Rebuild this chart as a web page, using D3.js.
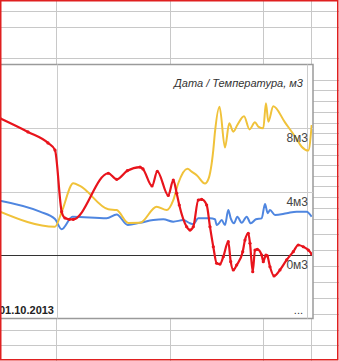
<!DOCTYPE html>
<html>
<head>
<meta charset="utf-8">
<script src="https://cdn.jsdelivr.net/npm/d3@7"></script>
<style>
  html, body { margin: 0; padding: 0; background: #fff; }
  svg { display: block; }
</style>
</head>
<body>
<svg id="chart" width="339" height="361"></svg>
<script>
// values (days from 01.10.2013, m3)
const redDays   = [-7.07, -3.6, -1.12, -0.25, 0.58, 0.99, 1.53, 2.02, 6.36, 7.40, 8.72, 10.29, 10.66, 11.78, 12.44, 13.80, 14.42, 14.84, 15.16, 16.08, 16.49, 16.90, 17.52, 17.94, 18.56, 18.97, 19.38, 19.80, 20.21, 20.62, 21.24, 21.54, 21.86, 22.28, 23.03, 23.31, 23.72, 23.93, 24.27, 24.55, 24.84, 25.38, 25.58, 25.91, 26.08, 26.41, 26.91, 27.65, 28.48, 29.30, 29.92, 30.54, 31.16, 31.58];
const redValues = [8.61, 7.75, 7.06, 6.61, 2.73, 2.33, 2.25, 2.25, 5.15, 4.77, 5.31, 5.54, 5.42, 4.35, 5.27, 3.75, 4.72, 3.89, 3.15, 1.78, 1.57, 1.78, 3.46, 3.50, 3.15, 1.78, 0.52, -0.52, -0.57, -0.11, 0.84, -0.42, -0.94, -0.63, 0.21, 0.94, 1.37, 0.74, -1.05, 0.31, 0.36, 0.0, -0.42, 0.0, -0.06, -0.74, -1.32, -0.94, -0.31, 0.21, 0.63, 0.52, 0.31, 0.06];

const yellowDays   = [-7.07, -0.25, 0.58, 2.02, 2.85, 6.36, 7.40, 8.84, 10.29, 12.36, 13.60, 14.42, 15.04, 16.18, 16.70, 17.36, 18.35, 18.76, 19.38, 19.59, 20.15, 20.83, 21.36, 21.86, 22.36, 23.19, 23.87, 24.55, 24.96, 25.58, 25.91, 26.20, 26.82, 28.27, 29.72, 30.34, 31.16, 31.58];
const yellowValues = [2.73, 1.78, 2.71, 4.52, 4.35, 2.88, 2.83, 2.02, 2.03, 3.04, 2.83, 3.46, 4.52, 5.43, 5.25, 5.01, 4.50, 4.76, 6.61, 7.75, 9.34, 6.77, 8.30, 7.77, 8.19, 8.74, 7.91, 8.36, 8.09, 7.98, 9.56, 8.40, 9.37, 8.35, 7.31, 6.82, 6.58, 8.19];

const blueDays   = [-7.07, -2.11, -0.25, 0.58, 1.92, 6.16, 7.40, 8.78, 10.29, 11.94, 13.18, 14.42, 15.66, 16.49, 16.90, 17.52, 18.14, 18.97, 19.59, 19.80, 20.00, 20.42, 20.83, 21.24, 21.54, 21.95, 22.36, 22.90, 23.52, 24.02, 24.67, 25.38, 25.79, 26.13, 26.41, 27.03, 28.48, 29.72, 30.96, 31.58];
const blueValues = [3.42, 2.73, 2.27, 1.62, 2.41, 2.31, 2.55, 1.89, 2.03, 2.20, 2.25, 2.10, 2.20, 2.00, 1.95, 2.31, 2.31, 2.31, 2.25, 1.89, 1.95, 2.20, 1.89, 2.83, 2.31, 2.00, 2.41, 2.03, 2.41, 2.00, 2.25, 2.31, 3.21, 2.63, 2.83, 2.52, 2.63, 2.73, 2.73, 2.41];

const yTicks = [0, 4, 8];
const yUnit = 'м3';
const xGridDays = [0, 31];
const xTickLabel = '01.10.2013';
const chartTitle = 'Дата / Температура, м3';

const series = [
    {name: 'blue', color: '#4f86e0', width: 2, days: blueDays, values: blueValues, dots: false},
    {name: 'yellow', color: '#f0c23a', width: 2, days: yellowDays, values: yellowValues, dots: false},
    {name: 'red', color: '#e8141c', width: 2.2, days: redDays, values: redValues, dots: true}
];

const svg = d3.select('#chart');
const W = 339, H = 361;

// spreadsheet background grid
const sheetCols = [56.5, 170.5, 263.5, 311.5];
const sheetRows = [11.5, 27.5, 58.5, 80.5, 90.5, 101.5, 112.5, 123.5, 133.5, 144.5, 155.5, 165.5, 176.5, 186.5, 197.5, 208.5, 219.5, 234.5, 250.5, 266.5, 282.5, 298.5, 314.5, 330.5, 345.5];

svg.append('rect').attr('width', W).attr('height', H).attr('fill', '#fff');

svg.selectAll('.sheet-col')
    .data(sheetCols)
    .enter().append('line')
    .attr('class', 'sheet-col')
    .attr('x1', d => d).attr('x2', d => d)
    .attr('y1', 0).attr('y2', H)
    .attr('stroke', '#c8c8c8');

svg.selectAll('.sheet-row')
    .data(sheetRows)
    .enter().append('line')
    .attr('class', 'sheet-row')
    .attr('x1', 0).attr('x2', W)
    .attr('y1', d => d).attr('y2', d => d)
    .attr('stroke', '#c8c8c8');

// chart box
const box = {left: -10, top: 64.5, right: 313, bottom: 318.5};

svg.append('rect')
    .attr('x', box.left)
    .attr('y', box.top)
    .attr('width', box.right - box.left)
    .attr('height', box.bottom - box.top)
    .attr('fill', '#fff')
    .attr('stroke', '#9a9a9a')
    .attr('stroke-width', 1.5);

const x = d3.scaleLinear().domain([0, 31]).range([57, 307]);
const y = d3.scaleLinear().domain([-4, 12]).range([box.bottom, box.top]);

svg.append('clipPath')
    .attr('id', 'plot-clip')
    .append('rect')
    .attr('x', box.left)
    .attr('y', box.top + 1)
    .attr('width', 312 - box.left)
    .attr('height', box.bottom - box.top - 2);

// grid
svg.selectAll('.hgrid')
    .data(yTicks.filter(d => d !== 0))
    .enter().append('line')
    .attr('class', 'hgrid')
    .attr('x1', 0).attr('x2', box.right)
    .attr('y1', d => Math.round(y(d)) + 0.5).attr('y2', d => Math.round(y(d)) + 0.5)
    .attr('stroke', '#cccccc');

svg.selectAll('.vgrid')
    .data(xGridDays)
    .enter().append('line')
    .attr('class', 'vgrid')
    .attr('x1', d => Math.round(x(d)) + 0.5).attr('x2', d => Math.round(x(d)) + 0.5)
    .attr('y1', box.top).attr('y2', box.bottom)
    .attr('stroke', '#cccccc');

// zero line
svg.append('line')
    .attr('x1', 0).attr('x2', box.right - 1)
    .attr('y1', Math.round(y(0)) + 0.5).attr('y2', Math.round(y(0)) + 0.5)
    .attr('stroke', '#333');

// series
const plot = svg.append('g').attr('clip-path', 'url(#plot-clip)');

const line = d3.line()
    .x(d => x(d[0]))
    .y(d => y(d[1]))
    .curve(d3.curveMonotoneX);

series.forEach(s => {
    const pts = s.days.map((d, i) => [d, s.values[i]]);
    plot.append('path')
        .datum(pts)
        .attr('fill', 'none')
        .attr('stroke', s.color)
        .attr('stroke-width', s.width)
        .attr('stroke-linejoin', 'round')
        .attr('d', line);
    if (s.dots) {
        plot.selectAll('.dot-' + s.name)
            .data(pts)
            .enter().append('circle')
            .attr('class', 'dot-' + s.name)
            .attr('cx', d => x(d[0]))
            .attr('cy', d => y(d[1]))
            .attr('r', 1.6)
            .attr('fill', s.color);
    }
});

// y labels
svg.selectAll('.ylabel')
    .data(yTicks)
    .enter().append('text')
    .attr('class', 'ylabel')
    .attr('x', 308)
    .attr('y', d => y(d) + 14)
    .attr('text-anchor', 'end')
    .attr('font-family', 'Liberation Sans, Arial, sans-serif')
    .attr('font-size', '12px')
    .attr('fill', '#444')
    .text(d => `${d}${yUnit}`);

// title
svg.append('text')
    .attr('x', 303)
    .attr('y', 87)
    .attr('text-anchor', 'end')
    .attr('font-family', 'Liberation Sans, Arial, sans-serif')
    .attr('font-size', '11px')
    .attr('font-style', 'italic')
    .attr('fill', '#333')
    .text(chartTitle);

// x label
svg.append('text')
    .attr('x', 54)
    .attr('y', 314)
    .attr('text-anchor', 'end')
    .attr('font-family', 'Liberation Sans, Arial, sans-serif')
    .attr('font-size', '11px')
    .attr('font-weight', 'bold')
    .attr('fill', '#222')
    .text(xTickLabel);

svg.append('text')
    .attr('x', 303)
    .attr('y', 314)
    .attr('text-anchor', 'end')
    .attr('font-family', 'Liberation Sans, Arial, sans-serif')
    .attr('font-size', '11px')
    .attr('fill', '#333')
    .text('...');

// outer red frame
svg.append('rect')
    .attr('x', 0.75).attr('y', 0.75)
    .attr('width', 337).attr('height', 359)
    .attr('fill', 'none')
    .attr('stroke', '#e02020')
    .attr('stroke-width', 1.5);
</script>
</body>
</html>
